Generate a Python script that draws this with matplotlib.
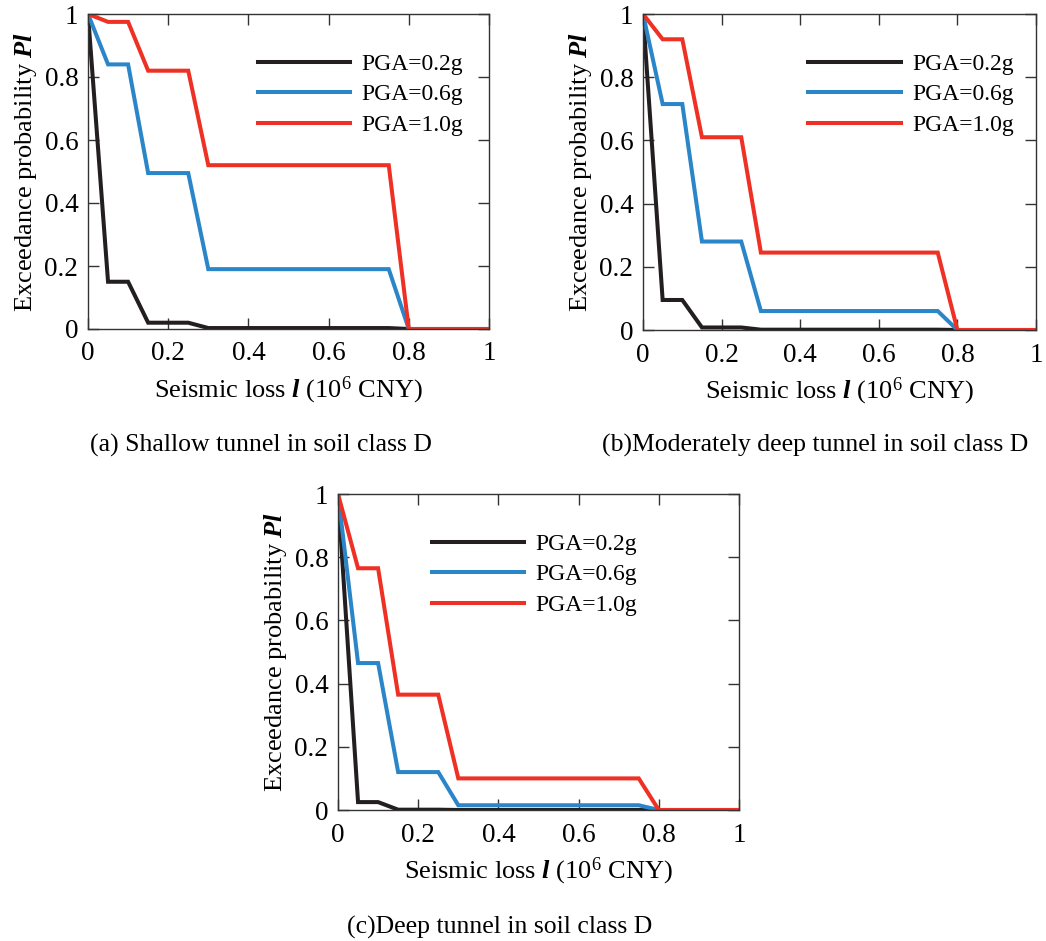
import numpy as np
import matplotlib
matplotlib.use('Agg')
import matplotlib.pyplot as plt

plt.rcParams['font.family'] = ['Liberation Serif', 'DejaVu Serif']
plt.rcParams['mathtext.fontset'] = 'custom'
plt.rcParams['mathtext.rm'] = 'Liberation Serif'
plt.rcParams['mathtext.it'] = 'Liberation Serif:italic'
plt.rcParams['mathtext.bf'] = 'Liberation Serif:bold:italic'

# loss levels (10^6 CNY)
loss = [0, 0.05, 0.1, 0.15, 0.25, 0.3, 0.75, 0.8, 1.0]
labels = ['PGA=0.2g', 'PGA=0.6g', 'PGA=1.0g']
colors = ['#231f20', '#2a86c8', '#ee3124']

# (a) shallow tunnel
a_02 = [1, 0.15, 0.15, 0.02, 0.02, 0.003, 0.003, 0, 0]
a_06 = [1, 0.84, 0.84, 0.495, 0.495, 0.19, 0.19, 0, 0]
a_10 = [1, 0.975, 0.975, 0.82, 0.82, 0.52, 0.52, 0, 0]
# (b) moderately deep tunnel
b_02 = [1, 0.095, 0.095, 0.008, 0.008, 0.001, 0.001, 0, 0]
b_06 = [1, 0.715, 0.715, 0.28, 0.28, 0.06, 0.06, 0, 0]
b_10 = [1, 0.92, 0.92, 0.61, 0.61, 0.245, 0.245, 0, 0]
# (c) deep tunnel
c_02 = [1, 0.025, 0.025, 0.001, 0.001, 0.0, 0.0, 0, 0]
c_06 = [1, 0.465, 0.465, 0.12, 0.12, 0.015, 0.015, 0, 0]
c_10 = [1, 0.765, 0.765, 0.365, 0.365, 0.10, 0.10, 0, 0]

captions = ['(a) Shallow tunnel in soil class D',
            '(b)Moderately deep tunnel in soil class D',
            '(c)Deep tunnel in soil class D']

W, H = 1046, 941
fig = plt.figure(figsize=(W/100, H/100), dpi=100)

# axes boxes in pixels: left, top, right, bottom
boxes = [(88, 14, 489, 329), (643, 14, 1036, 330), (338, 494, 739, 810)]
data = [(a_02, a_06, a_10), (b_02, b_06, b_10), (c_02, c_06, c_10)]
legx = [0.40, 0.397, 0.21]
# caption centres in pixels
capxy = [(261, 445), (815, 445), (500, 927)]

for i in range(3):
    l, t, r, b = boxes[i]
    ax = fig.add_axes([l/W, 1-b/H, (r-l)/W, (b-t)/H])
    for y, lab, c in zip(data[i], labels, colors):
        ax.plot(loss, y, color=c, lw=2.9, label=lab, solid_joinstyle='miter')
    ax.set_xlim(0, 1)
    ax.set_ylim(0, 1)
    ax.set_xticks([0, 0.2, 0.4, 0.6, 0.8, 1])
    ax.set_xticklabels(['0', '0.2', '0.4', '0.6', '0.8', '1'])
    ax.set_yticks([0, 0.2, 0.4, 0.6, 0.8, 1])
    ax.set_yticklabels(['0', '0.2', '0.4', '0.6', '0.8', '1'])
    ax.tick_params(direction='in', top=True, right=True, length=8, width=1,
                   labelsize=19.5, color='#333333')
    ax.tick_params(axis='x', pad=9)
    ax.tick_params(axis='y', pad=7)
    for s in ax.spines.values():
        s.set_linewidth(1.0)
        s.set_color('#333333')
    ax.set_xlabel(r'Seismic loss $\mathbf{l}$ ($10^6$ CNY)', fontsize=19, labelpad=6)
    ax.set_ylabel(r'Exceedance probability $\mathbf{Pl}$', fontsize=19, labelpad=4)
    ax.legend(loc='upper left', bbox_to_anchor=(legx[i], 0.905), frameon=False,
              fontsize=17, handlelength=3.9, handletextpad=0.5, labelspacing=0.38,
              borderaxespad=0, borderpad=0.4)
    fig.text(capxy[i][0] / W, 1 - capxy[i][1] / H, captions[i], ha='center',
             va='center', fontsize=18.5)

fig.savefig('out.png', dpi=100)
